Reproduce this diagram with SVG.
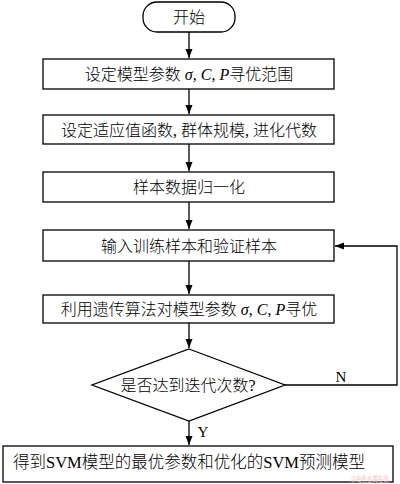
<svg xmlns="http://www.w3.org/2000/svg" width="400" height="484" viewBox="0 0 400 484">
<style>
.b{fill:#fff;stroke:#000;stroke-width:1.3}
.t{font-family:"Liberation Serif","Noto Sans CJK SC",serif;font-size:16px;font-weight:300;fill:#000;text-anchor:middle}
.l{stroke:#000;stroke-width:1.3;fill:none}
.i{font-style:italic;font-weight:400}
</style>
<defs>
<marker id="a" markerWidth="10" markerHeight="10" refX="9" refY="5" orient="auto" markerUnits="userSpaceOnUse">
<path d="M0,1.5 L9,5 L0,8.5 Z" fill="#000"/>
</marker>
</defs>
<rect width="400" height="484" fill="#fff"/>
<g id="connectors">
<line class="l" x1="189" y1="32" x2="189" y2="58" marker-end="url(#a)"/>
<line class="l" x1="189" y1="89" x2="189" y2="114" marker-end="url(#a)"/>
<line class="l" x1="189" y1="144" x2="189" y2="171" marker-end="url(#a)"/>
<line class="l" x1="189" y1="202" x2="189" y2="229" marker-end="url(#a)"/>
<line class="l" x1="189" y1="261" x2="189" y2="294" marker-end="url(#a)"/>
<line class="l" x1="189" y1="323" x2="189" y2="348" marker-end="url(#a)"/>
<line class="l" x1="189" y1="421" x2="189" y2="445" marker-end="url(#a)"/>
<polyline class="l" points="285,385 397,385 397,246 335,246" marker-end="url(#a)"/>
<text class="t" x="341" y="382" style="font-size:15px;font-weight:400">N</text>
<text class="t" x="203" y="437" style="font-size:15px;font-weight:400">Y</text>
</g>
<g id="start">
<rect class="b" x="143" y="2" width="92" height="30" rx="14"/>
<text class="t" x="189" y="22.5">开始</text>
</g>
<g id="n1">
<rect class="b" x="43" y="59" width="291" height="30"/>
<text class="t" x="189" y="80">设定模型参数 <tspan class="i">σ</tspan>, <tspan class="i">C</tspan>, <tspan class="i">P</tspan>寻优范围</text>
</g>
<g id="n2">
<rect class="b" x="43" y="115" width="291" height="29"/>
<text class="t" x="189" y="135.5">设定适应值函数, 群体规模, 进化代数</text>
</g>
<g id="n3">
<rect class="b" x="43" y="172" width="291" height="30"/>
<text class="t" x="189" y="193">样本数据归一化</text>
</g>
<g id="n4">
<rect class="b" x="43" y="230" width="291" height="31"/>
<text class="t" x="189" y="251.5">输入训练样本和验证样本</text>
</g>
<g id="n5">
<rect class="b" x="43" y="295" width="291" height="28"/>
<text class="t" x="189" y="315">利用遗传算法对模型参数 <tspan class="i">σ</tspan>, <tspan class="i">C</tspan>, <tspan class="i">P</tspan>寻优</text>
</g>
<g id="decision">
<polygon class="b" points="189,349 285,385 189,421 92,385"/>
<text class="t" x="188" y="391">是否达到迭代次数?</text>
</g>
<g id="end">
<rect class="b" x="3" y="446" width="390" height="36"/>
<text class="t" x="189" y="468" style="font-size:16.5px">得到SVM模型的最优参数和优化的SVM预测模型</text>
</g>
<text transform="translate(351,481.5) scale(0.68,1)" x="0" y="0" style="font-family:'Noto Sans CJK SC',sans-serif;font-size:8px;fill:#f2c4c4">@有色金属在线</text>
</svg>
